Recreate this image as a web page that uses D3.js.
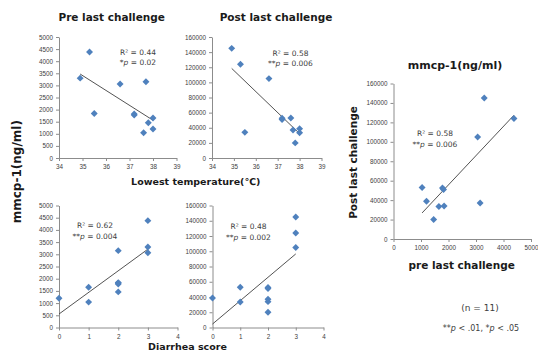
<!DOCTYPE html>
<html>
<head>
<meta charset="utf-8">
<script src="https://cdn.jsdelivr.net/npm/d3@7"></script>
<style>
  body { margin: 0; background: #fff; }
  svg { display: block; font-family: 'DejaVu Sans', sans-serif; }
  .axis path, .axis line { stroke: #8c8c8c; }
  .axis text { fill: #404040; font-size: 6.3px; }
</style>
</head>
<body>
<div id="content"></div>
<script>
// one entry per animal (n = 11)
var lowestTemp = [34.9, 35.3, 35.5, 36.6, 37.2, 37.2, 37.6, 37.7, 37.8, 38.0, 38.0];
var diarrheaScore = [3, 3, 2, 3, 2, 2, 1, 2, 2, 1, 0];
var preMmcp = [3300, 4380, 1840, 3060, 1780, 1820, 1040, 3150, 1460, 1650, 1200];
var postMmcp = [145000, 124000, 33900, 105000, 52500, 51000, 52900, 37000, 20000, 33500, 38800];

// tick values
var tempTicks = [34, 35, 36, 37, 38, 39];
var scoreTicks = [0, 1, 2, 3, 4];
var preTicks = [0, 500, 1000, 1500, 2000, 2500, 3000, 3500, 4000, 4500, 5000];
var postTicks = [0, 20000, 40000, 60000, 80000, 100000, 120000, 140000, 160000];
var preTicksX = [0, 1000, 2000, 3000, 4000, 5000];

// regression stats as printed
var r2Labels = ['0.44', '0.58', '0.62', '0.48', '0.58'];
var pLabels = [['*', '0.02'], ['**', '0.006'], ['**', '0.004'], ['**', '0.002'], ['**', '0.006']];

var width = 538, height = 352;
var svg = d3.select('#content').append('svg')
  .attr('width', width)
  .attr('height', height);

// least squares line
function fit(xs, ys) {
  var mx = d3.mean(xs), my = d3.mean(ys);
  var sxy = d3.sum(xs, function(x, i) { return (x - mx) * (ys[i] - my); });
  var sxx = d3.sum(xs, function(x) { return (x - mx) * (x - mx); });
  var b = sxy / sxx;
  return function(x) { return my + b * (x - mx); };
}

function panel(opt) {
  var x = d3.scaleLinear().domain(opt.xDomain).range(opt.xRange);
  var y = d3.scaleLinear().domain(opt.yDomain).range(opt.yRange);

  svg.append('g')
    .attr('class', 'axis')
    .attr('transform', 'translate(0,' + opt.yRange[0] + ')')
    .call(d3.axisBottom(x).tickValues(opt.xTicks).tickFormat(d3.format('d'))
      .tickSize(3).tickSizeOuter(0).tickPadding(4));

  svg.append('g')
    .attr('class', 'axis')
    .attr('transform', 'translate(' + opt.xRange[0] + ',0)')
    .call(d3.axisLeft(y).tickValues(opt.yTicks).tickFormat(d3.format('d'))
      .tickSize(3).tickSizeOuter(0).tickPadding(3));

  // trendline over the data range
  var line = fit(opt.xs, opt.ys);
  var x0 = d3.min(opt.xs), x1 = d3.max(opt.xs);
  svg.append('line')
    .attr('x1', x(x0)).attr('y1', y(line(x0)))
    .attr('x2', x(x1)).attr('y2', y(line(x1)))
    .attr('stroke', '#404040')
    .attr('stroke-width', 0.9);

  var diamond = d3.symbol().type(d3.symbolSquare).size(24);
  svg.append('g').selectAll('path')
    .data(opt.xs)
    .enter()
    .append('path')
      .attr('d', diamond)
      .attr('transform', function(d, i) {
        return 'translate(' + x(d) + ',' + y(opt.ys[i]) + ') rotate(45)';
      })
      .attr('fill', '#4f81bd');

  // R² and p labels
  svg.append('text')
    .attr('x', opt.statPos[0])
    .attr('y', opt.statPos[1])
    .attr('text-anchor', 'middle')
    .style('font-size', '7.5px')
    .style('fill', '#404040')
    .text('R² = ' + r2Labels[opt.k]);
  var p = svg.append('text')
    .attr('x', opt.statPos[0])
    .attr('y', opt.statPos[1] + 10.5)
    .attr('text-anchor', 'middle')
    .style('font-size', '7.5px')
    .style('fill', '#404040');
  p.append('tspan').text(pLabels[opt.k][0]);
  p.append('tspan').style('font-style', 'italic').text('p');
  p.append('tspan').text(' = ' + pLabels[opt.k][1]);
}

panel({ k: 0, xs: lowestTemp, ys: preMmcp, xDomain: [34, 39], xRange: [59, 176.5],
  yDomain: [0, 5000], yRange: [158, 37], xTicks: tempTicks, yTicks: preTicks, statPos: [138, 54.5] });
panel({ k: 1, xs: lowestTemp, ys: postMmcp, xDomain: [34, 39], xRange: [212, 321.5],
  yDomain: [0, 160000], yRange: [158, 37], xTicks: tempTicks, yTicks: postTicks, statPos: [290.5, 55.5] });
panel({ k: 2, xs: diarrheaScore, ys: preMmcp, xDomain: [0, 4], xRange: [59, 177.5],
  yDomain: [0, 5000], yRange: [327.5, 205.5], xTicks: scoreTicks, yTicks: preTicks, statPos: [95, 228] });
panel({ k: 3, xs: diarrheaScore, ys: postMmcp, xDomain: [0, 4], xRange: [212.5, 323.5],
  yDomain: [0, 160000], yRange: [327.5, 205.5], xTicks: scoreTicks, yTicks: postTicks, statPos: [248.5, 229] });
panel({ k: 4, xs: preMmcp, ys: postMmcp, xDomain: [0, 5000], xRange: [393.5, 531],
  yDomain: [0, 160000], yRange: [239, 83.5], xTicks: preTicksX, yTicks: postTicks, statPos: [435, 136] });

// titles and axis labels
function label(txt, x, y, size, rotate) {
  return svg.append('text')
    .attr('text-anchor', 'middle')
    .attr('transform', 'translate(' + x + ',' + y + ')' + (rotate ? ' rotate(-90)' : ''))
    .style('font-size', size + 'px')
    .style('font-weight', 'bold')
    .style('fill', '#1a1a1a')
    .text(txt);
}

label('Pre last challenge', 111.7, 21, 10.5);
label('Post last challenge', 276, 21, 10.5);
label('Lowest temperature(℃)', 195.7, 184.5, 9.5);
label('Diarrhea score', 187.5, 349.5, 9.5);
label('mmcp-1(ng/ml)', 21, 171.7, 12, true);
label('mmcp-1(ng/ml)', 455, 69, 11);
label('Post last challenge', 356.5, 162.5, 10.5, true);
label('pre last challenge', 461.7, 268.5, 10.5);

svg.append('text')
  .attr('x', 480).attr('y', 310.5)
  .attr('text-anchor', 'middle')
  .style('font-size', '9px')
  .style('fill', '#404040')
  .text('(n = 11)');

var note = svg.append('text')
  .attr('x', 481).attr('y', 331)
  .attr('text-anchor', 'middle')
  .style('font-size', '8px')
  .style('fill', '#404040');
note.append('tspan').text('**');
note.append('tspan').style('font-style', 'italic').text('p');
note.append('tspan').text(' < .01, *');
note.append('tspan').style('font-style', 'italic').text('p');
note.append('tspan').text(' < .05');
</script>
</body>
</html>
